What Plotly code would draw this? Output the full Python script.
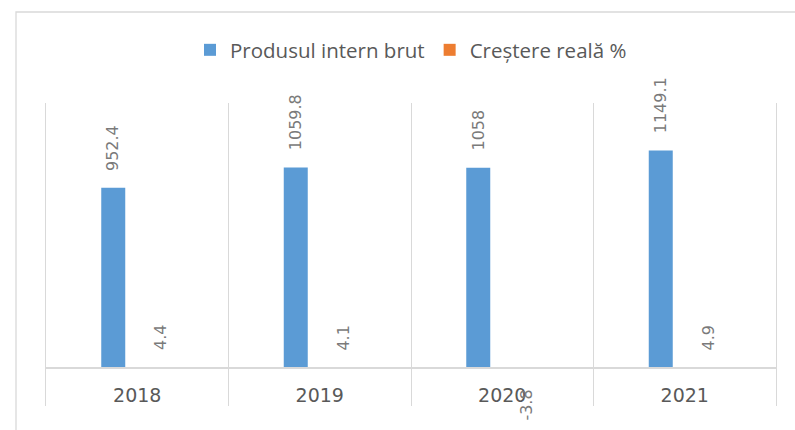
import plotly.graph_objects as go

# Date anuale
years = ["2018", "2019", "2020", "2021"]
pib = [952.4, 1059.8, 1058, 1149.1]
crestere = [4.4, 4.1, -3.8, 4.9]

series_names = ["Produsul intern brut", "Creștere reală %"]
series_colors = ["#5B9BD5", "#ED7D31"]

GRID = "#D9D9D9"
TEXT = "#595959"
LABEL = "#7A7A7A"

fig = go.Figure()
for name, values, color in zip(series_names, [pib, crestere], series_colors):
    fig.add_trace(go.Bar(
        x=years, y=values, name=name,
        marker=dict(color=color, line=dict(width=0)),
        cliponaxis=False,
    ))


def fmt(v):
    return f"{v:g}"


# Etichete de date rotite, deasupra (sau sub) fiecărei coloane;
# pe axa de categorii poziția se dă prin indexul categoriei
annotations = []
for values, shift in [(pib, -24), (crestere, 24)]:
    for i, v in enumerate(values):
        annotations.append(dict(
            x=i, y=v, xref="x", yref="y",
            text=fmt(v), showarrow=False, textangle=-90,
            xshift=shift,
            yanchor="bottom" if v >= 0 else "top",
            yshift=15 if v >= 0 else -19,
            font=dict(family="DejaVu Sans", size=16, color=LABEL),
        ))

# Chenarul zonei graficului
shapes = [dict(
    type="rect", xref="paper", yref="paper",
    x0=(16 - 46) / 730, x1=(810 - 46) / 730,
    y0=(406 - 445) / 303, y1=(406 - 12) / 303,
    line=dict(color=GRID, width=1.3), fillcolor="rgba(0,0,0,0)",
    layer="below",
)]

fig.update_layout(
    width=795, height=430,
    margin=dict(l=46, r=19, t=103, b=24),
    paper_bgcolor="white", plot_bgcolor="white",
    barmode="group", bargap=0.474, bargroupgap=0.5,
    annotations=annotations, shapes=shapes,
    legend=dict(
        orientation="h", x=0.5, xanchor="center",
        y=(406 - 50) / 303, yanchor="middle",
        font=dict(family="Open Sans", size=20.5, color=TEXT),
        bgcolor="rgba(0,0,0,0)",
    ),
    xaxis=dict(
        type="category", range=[-0.5, 3.5],
        tickson="boundaries", ticks="",
        showgrid=True, gridcolor=GRID, gridwidth=1.3,
        showline=True, linecolor=GRID, linewidth=1.6,
        layer="above traces",
        anchor="free", position=200 / 1600,
        tickfont=dict(family="DejaVu Sans", size=19, color=TEXT),
        ticklabelstandoff=10,
    ),
    yaxis=dict(
        range=[-200, 1400], showgrid=False, zeroline=False,
        showticklabels=False, ticks="",
        showline=True, mirror=True, linecolor=GRID, linewidth=1.3,
    ),
    showlegend=True,
)

fig.write_html("out.html")
